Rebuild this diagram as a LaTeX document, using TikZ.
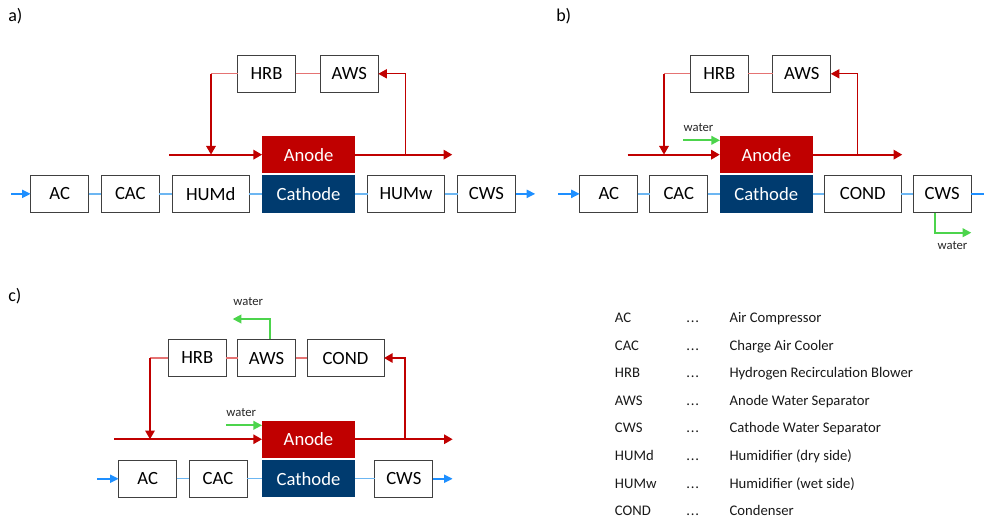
\documentclass[tikz,border=0pt]{standalone}
\usepackage{fontspec}
\setmainfont{Carlito}
\usetikzlibrary{arrows.meta}
\definecolor{anodered}{HTML}{C00000}
\definecolor{cathblue}{HTML}{003B6F}
\definecolor{flowblue}{HTML}{1E8FFF}
\definecolor{linkblue}{HTML}{6CB6F2}
\definecolor{linkred}{HTML}{E57373}
\definecolor{watergreen}{HTML}{4CD44C}
\definecolor{boxline}{HTML}{404040}
\begin{document}
\begin{tikzpicture}[x=0.75pt,y=-0.75pt,
  unit/.style={draw=boxline, line width=0.75pt, fill=white, inner sep=0pt, outer sep=0pt,
    minimum width=43.5pt, minimum height=28.1pt, font=\fontsize{14}{16}\selectfont},
  wideunit/.style={unit, minimum width=57.75pt},
  anodebox/.style={fill=anodered, text=white, inner sep=0pt, outer sep=0pt,
    minimum width=69.75pt, minimum height=28.1pt, font=\fontsize{14}{16}\selectfont},
  cathbox/.style={anodebox, fill=cathblue},
  redflow/.style={draw=anodered, line width=1.5pt, -{Triangle[length=6.5pt,width=7pt]}},
  redthin/.style={draw=anodered, line width=0.8pt, -{Triangle[length=6.5pt,width=7pt]}},
  linkr/.style={draw=linkred, line width=1pt},
  linkb/.style={draw=linkblue, line width=1pt},
  blueflow/.style={draw=flowblue, line width=1.6pt, -{Triangle[length=6.5pt,width=6pt]}},
  blueplain/.style={draw=flowblue, line width=1.6pt},
  greenflow/.style={draw=watergreen, line width=1.3pt, -{Triangle[length=6.5pt,width=6.5pt]}},
  watertxt/.style={font=\fontsize{9.5}{11}\selectfont, text=black!85, inner sep=0pt},
  panel/.style={font=\fontsize{13.5}{15}\selectfont, anchor=west, inner sep=0pt},
  legend/.style={font=\fontsize{11}{13}\selectfont, anchor=west, inner sep=0pt,
    text height=8pt, text depth=2.5pt, text=black!90}
]
\useasboundingbox (0,0) rectangle (984,522);

% ---------------- panel labels
\node[panel] (la) at (8,16.5) {a)};
\node[panel] (lb) at (556,16.5) {b)};
\node[panel] (lc) at (8,296.5) {c)};

% ================= panel a
\node[unit] (ACa) at (59.7,193.85) {AC};
\node[unit] (CACa) at (130.3,193.85) {CAC};
\node[wideunit] (HUMda) at (210.8,193.85) {HUMd};
\node[cathbox] (Catha) at (308.6,193.85) {Cathode};
\node[anodebox] (Anoa) at (308.6,154.65) {Anode};
\node[wideunit] (HUMwa) at (406,193.85) {HUMw};
\node[unit] (CWSa) at (486.5,193.85) {CWS};
\node[unit] (HRBa) at (266.5,73.8) {HRB};
\node[unit] (AWSa) at (349.3,73.8) {AWS};

\coordinate (ain) at (11,193.85);
\coordinate (aout) at (535.3,193.85);
\coordinate (arin) at (169.3,154.65);
\coordinate (arout) at (452.3,154.65);
\coordinate (adtop) at (211,73.8);
\coordinate (adbot) at (211,154.65);
\coordinate (aubot) at (405.3,154.65);
\coordinate (autop) at (405.3,73.8);

\draw[blueflow] (ain) -- (ACa);
\draw[linkb] (ACa) -- (CACa);
\draw[linkb] (CACa) -- (HUMda);
\draw[linkb] (HUMda) -- (Catha);
\draw[linkb] (Catha) -- (HUMwa);
\draw[linkb] (HUMwa) -- (CWSa);
\draw[blueflow] (CWSa) -- (aout);
\draw[redflow] (arin) -- (Anoa);
\draw[redflow] (Anoa) -- (arout);
\draw[linkr] (HRBa) -- (AWSa);
\draw[linkr] (HRBa.west) -- (adtop);
\draw[redflow] (adtop) -- (adbot);
\draw[redthin] (aubot) -- (autop) -- (AWSa.east);

% ================= panel b
\node[unit] (ACb) at (608.8,193.85) {AC};
\node[unit] (CACb) at (678.8,193.85) {CAC};
\node[cathbox] (Cathb) at (766.3,193.85) {Cathode};
\node[anodebox] (Anob) at (766.3,154.65) {Anode};
\node[wideunit] (CONDb) at (862.8,193.85) {COND};
\node[unit] (CWSb) at (942.2,193.85) {CWS};
\node[unit] (HRBb) at (719.3,73.8) {HRB};
\node[unit] (AWSb) at (801.8,73.8) {AWS};

\coordinate (bin) at (558.3,193.85);
\coordinate (bout) at (984,193.85);
\coordinate (brin) at (627.7,154.65);
\coordinate (brout) at (902.3,154.65);
\coordinate (bdtop) at (664,73.8);
\coordinate (bdbot) at (664,154.65);
\coordinate (bubot) at (857.3,154.65);
\coordinate (butop) at (857.3,73.8);
\coordinate (bwin) at (683.3,140.3);
\coordinate (bwtip) at (720,140.3);
\coordinate (bcws) at (934.7,212.6);
\coordinate (bcorner) at (934.7,232.7);
\coordinate (bcwsout) at (971.3,232.7);

\draw[blueflow] (bin) -- (ACb);
\draw[linkb] (ACb) -- (CACb);
\draw[linkb] (CACb) -- (Cathb);
\draw[linkb] (Cathb) -- (CONDb);
\draw[linkb] (CONDb) -- (CWSb);
\draw[blueplain] (CWSb) -- (bout);
\draw[redflow] (brin) -- (Anob);
\draw[redflow] (Anob) -- (brout);
\draw[linkr] (HRBb) -- (AWSb);
\draw[linkr] (HRBb.west) -- (bdtop);
\draw[redflow] (bdtop) -- (bdbot);
\draw[redthin] (bubot) -- (butop) -- (AWSb.east);
\draw[greenflow] (bwin) -- (bwtip);
\node[watertxt] (bwl) at (698.5,127.3) {water};
\draw[greenflow] (bcws) -- (bcorner) -- (bcwsout);
\node[watertxt] (bwl2) at (952.5,245.7) {water};

% ================= panel c
\node[unit] (ACc) at (147.7,478.75) {AC};
\node[unit] (CACc) at (218,478.75) {CAC};
\node[cathbox] (Cathc) at (308.5,478.75) {Cathode};
\node[anodebox] (Anoc) at (308.5,439.25) {Anode};
\node[unit] (CWSc) at (403.8,478.75) {CWS};
\node[unit] (HRBc) at (197.3,358) {HRB};
\node[unit] (AWSc) at (266.5,358) {AWS};
\node[wideunit] (CONDc) at (345.5,358) {COND};

\coordinate (cin) at (97.3,478.75);
\coordinate (cout) at (452.7,478.75);
\coordinate (crin) at (114.3,439.25);
\coordinate (crout) at (452.7,439.25);
\coordinate (cdtop) at (150,358);
\coordinate (cdbot) at (150,439.25);
\coordinate (cubot) at (405.3,439.25);
\coordinate (cutop) at (405.3,358);
\coordinate (cwin) at (226,425.3);
\coordinate (cwtip) at (262,425.3);
\coordinate (caws) at (269.7,339.1);
\coordinate (ccorner) at (269.7,319);
\coordinate (cawsout) at (232.7,319);

\draw[blueflow] (cin) -- (ACc);
\draw[linkb] (ACc) -- (CACc);
\draw[linkb] (CACc) -- (Cathc);
\draw[linkb] (Cathc) -- (CWSc);
\draw[blueflow] (CWSc) -- (cout);
\draw[redflow] (crin) -- (Anoc);
\draw[redflow] (Anoc) -- (crout);
\draw[linkr] (HRBc) -- (AWSc);
\draw[linkr] (AWSc) -- (CONDc);
\draw[linkr] (HRBc.west) -- (cdtop);
\draw[redflow] (cdtop) -- (cdbot);
\draw[redflow] (cubot) -- (cutop) -- (CONDc.east);
\draw[greenflow] (cwin) -- (cwtip);
\node[watertxt] (cwl) at (241.3,412.3) {water};
\draw[greenflow] (caws) -- (ccorner) -- (cawsout);
\node[watertxt] (cwl2) at (248.3,301.7) {water};

% ================= legend
\foreach \i/\ab/\de in {0/AC/Air Compressor, 1/CAC/Charge Air Cooler,
  2/HRB/Hydrogen Recirculation Blower, 3/AWS/Anode Water Separator,
  4/CWS/Cathode Water Separator, 5/HUMd/Humidifier (dry side),
  6/HUMw/Humidifier (wet side), 7/COND/Condenser}{
  \node[legend] (lg\i a) at (614.7,{318.8+27.6*\i}) {\ab};
  \node[legend] (lg\i b) at (686,{318.8+27.6*\i}) {.\kern0.6pt.\kern0.6pt.};
  \node[legend] (lg\i c) at (729.3,{318.8+27.6*\i}) {\de};
}
\end{tikzpicture}
\end{document}
